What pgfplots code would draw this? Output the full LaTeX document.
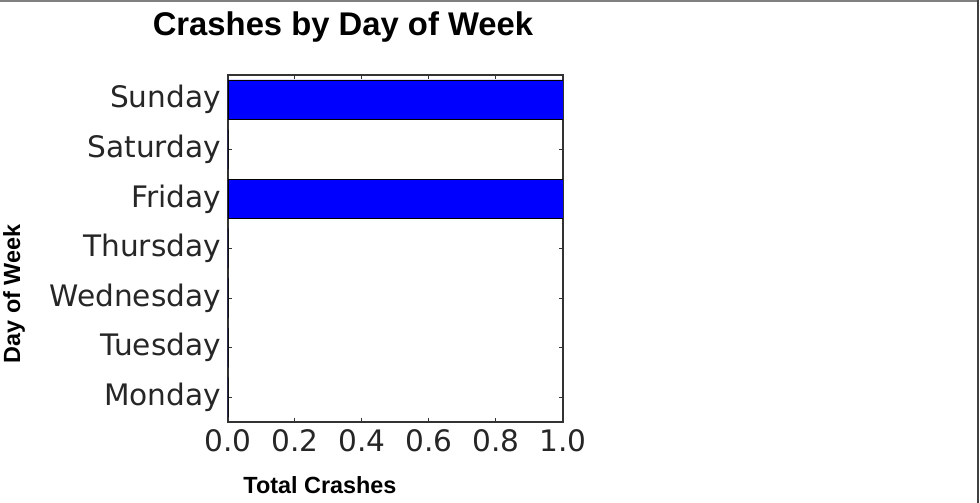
\documentclass[border=0pt]{standalone}
\usepackage{fontspec}
\setmainfont{DejaVu Sans}
\newfontfamily\arialfont{Liberation Sans}
\usepackage{pgfplots}
\pgfplotsset{compat=1.18}

% one value per day, Monday at 0 ... Sunday at 6
\begin{document}
\begin{tikzpicture}[x=1pt,y=1pt]
\useasboundingbox (-114,-40.5) rectangle (376,211);
\begin{axis}[
    at={(0pt,0pt)}, anchor=south west,
    scale only axis,
    width=167.5pt, height=173.5pt,
    xbar, bar width=0.8,
    xmin=0, xmax=1, ymin=-0.5, ymax=6.5,
    ytick={0,1,2,3,4,5,6},
    yticklabels={Monday,Tuesday,Wednesday,Thursday,Friday,Saturday,Sunday},
    xtick={0,0.2,0.4,0.6,0.8,1},
    xticklabels={0.0,0.2,0.4,0.6,0.8,1.0},
    ticklabel style={font=\fontsize{14.8}{16}\selectfont, text=black!85},
    tick align=inside,
    major tick length=2.2pt,
    axis line style={black!80, line width=0.6pt},
    every tick/.style={black!80, line width=0.5pt},
]
\addplot[fill=blue, draw=black, line width=0.4pt] coordinates {
    (0,0) (0,1) (0,2) (0,3) (1,4) (0,5) (1,6)
};
\end{axis}
\node[font=\arialfont\bfseries\fontsize{16.4}{19}\selectfont] at (57.5,197.5) {Crashes by Day of Week};
\node[font=\arialfont\bfseries\fontsize{11.7}{14}\selectfont] at (46,-31.5) {Total Crashes};
\node[font=\arialfont\bfseries\fontsize{11.7}{14}\selectfont, rotate=90] at (-107,64) {Day of Week};
\draw[gray, line width=1pt] (-114,210.5) -- (375,210.5);
\draw[black!75, line width=1pt] (375,211) -- (375,-40.5);
\end{tikzpicture}
\end{document}
